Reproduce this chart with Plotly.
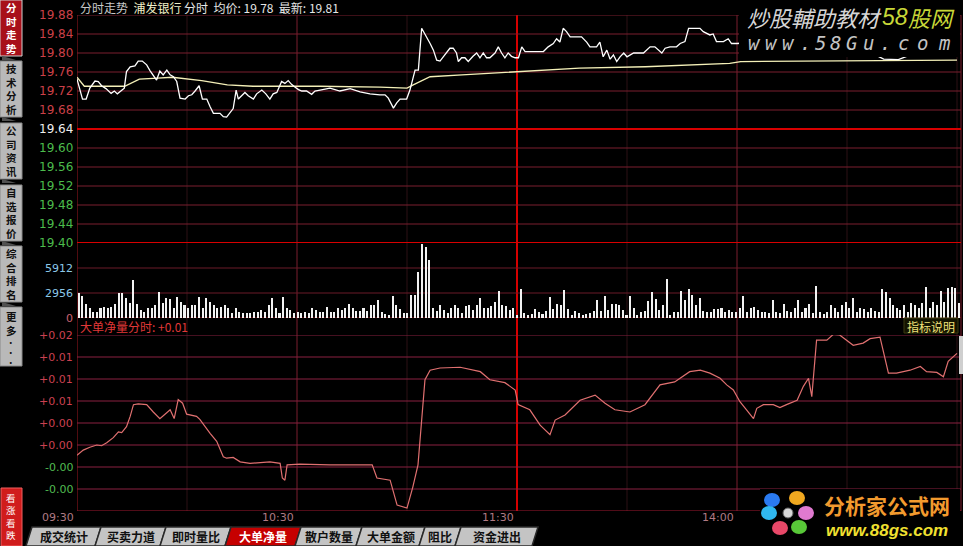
import plotly.graph_objects as go

# ---------------- data ----------------
stock_name = "浦发银行"
avg_price_text = "19.78"
last_price_text = "19.81"
net_last_text = "+0.01"

prev_close = 19.64
price_ticks = [19.88, 19.84, 19.80, 19.76, 19.72, 19.68, 19.64, 19.60, 19.56, 19.52, 19.48, 19.44, 19.40]
vol_ticks = [2956, 5912]
vol_max = 8868
net_ticks = [0.0165, 0.0135, 0.0105, 0.0075, 0.0045, 0.0015, -0.0015, -0.0045]
net_tick_text = ["+0.02", "+0.01", "+0.01", "+0.01", "+0.00", "+0.00", "-0.00", "-0.00"]
net_range = [-0.0075, 0.0165]
time_ticks = [0, 60, 120, 180]
time_labels = ["09:30", "10:30", "11:30", "14:00"]

# (minutes since 09:30, price)
price_line = [
    (0, 19.745), (1.5, 19.703), (2.5, 19.703), (3.5, 19.726), (4.9, 19.741), (5.8, 19.740), (6.7, 19.731),
    (7.9, 19.725), (9.3, 19.715), (10.2, 19.720), (11.0, 19.714), (11.9, 19.720), (12.9, 19.726), (13.5, 19.761),
    (14.5, 19.771), (15.8, 19.773), (16.7, 19.783), (17.8, 19.783), (19.0, 19.775), (19.9, 19.763), (20.8, 19.754),
    (21.7, 19.743), (22.6, 19.762), (23.5, 19.754), (24.5, 19.764), (25.4, 19.754), (26.3, 19.750), (27.2, 19.740),
    (28.1, 19.705), (29.5, 19.703), (30.4, 19.710), (31.3, 19.712), (32.2, 19.720), (33.3, 19.731), (34.2, 19.703),
    (35.4, 19.703), (36.3, 19.687), (37.2, 19.673), (39.0, 19.673), (39.9, 19.666), (40.8, 19.665), (41.7, 19.673),
    (42.6, 19.683), (43.4, 19.722), (44.0, 19.703), (44.9, 19.710), (45.8, 19.717), (46.7, 19.710), (48.1, 19.703),
    (49.0, 19.714), (50.4, 19.722), (51.5, 19.714), (52.6, 19.703), (53.5, 19.714), (54.5, 19.717), (55.8, 19.740),
    (56.7, 19.736), (57.6, 19.742), (58.5, 19.734), (59.5, 19.728), (60.4, 19.723), (61.3, 19.720), (62.6, 19.720),
    (64.0, 19.713), (64.9, 19.720), (66.3, 19.722), (69.0, 19.726), (71.7, 19.720), (74.5, 19.725), (77.2, 19.718),
    (79.9, 19.714), (82.6, 19.712), (84.0, 19.712), (84.9, 19.705), (86.3, 19.684), (87.2, 19.695), (88.1, 19.703),
    (89.9, 19.703), (90.8, 19.722), (92.2, 19.764), (93.1, 19.764), (94.0, 19.852), (95.4, 19.834), (96.3, 19.820),
    (97.2, 19.806), (98.1, 19.785), (99.0, 19.783), (99.9, 19.792), (100.8, 19.800), (101.7, 19.810), (102.6, 19.810),
    (103.5, 19.800), (104.0, 19.782), (104.9, 19.790), (105.8, 19.790), (106.7, 19.782), (108.0, 19.793), (109.0, 19.800),
    (109.9, 19.790), (110.8, 19.800), (111.7, 19.790), (112.6, 19.790), (114.0, 19.800), (114.9, 19.813), (115.8, 19.800),
    (116.7, 19.790), (117.6, 19.800), (118.5, 19.793), (119.5, 19.790), (120.4, 19.790), (121.3, 19.813), (122.2, 19.803),
    (127.2, 19.803), (128.5, 19.813), (129.9, 19.820), (130.8, 19.830), (131.7, 19.823), (132.6, 19.852), (133.5, 19.845),
    (134.5, 19.834), (137.6, 19.834), (139.0, 19.823), (139.9, 19.813), (141.7, 19.813), (142.6, 19.823), (143.5, 19.792),
    (144.5, 19.806), (145.4, 19.787), (146.3, 19.796), (147.2, 19.782), (148.1, 19.792), (149.1, 19.800), (150.0, 19.792),
    (150.8, 19.796), (151.8, 19.800), (154.5, 19.800), (155.4, 19.806), (156.3, 19.813), (157.6, 19.813), (158.5, 19.806),
    (159.5, 19.800), (160.4, 19.810), (161.7, 19.813), (163.5, 19.813), (164.5, 19.820), (165.8, 19.824), (166.8, 19.852),
    (169.9, 19.852), (170.8, 19.845), (172.6, 19.838), (173.5, 19.840), (174.4, 19.824), (176.3, 19.824), (177.6, 19.830),
    (178.5, 19.820), (180.0, 19.820), (190.0, 19.825), (200.0, 19.815), (212.0, 19.810), (218.0, 19.795), (220.0, 19.787),
    (224.0, 19.786), (227.0, 19.795), (233.0, 19.805), (240.0, 19.810),
]

# (minutes since 09:30, average price)
avg_line = [
    (0, 19.749), (2, 19.730), (13, 19.730), (17, 19.745), (22, 19.747), (26, 19.749), (34, 19.742), (41, 19.733),
    (48, 19.730), (66, 19.730), (82.6, 19.728), (90, 19.726), (91.7, 19.733), (96.3, 19.750), (105, 19.754),
    (120, 19.761), (137, 19.768), (155, 19.771), (178, 19.778), (181, 19.782), (240, 19.785),
]

# one bar per minute
volume = [
    2960, 2600, 1650, 1180, 710, 710, 1180, 1300, 1180, 1300, 1650, 2960, 2960, 2370, 1770, 4490, 1650, 950, 710, 1180,
    1180, 1540, 3070, 1770, 2370, 2250, 1180, 2480, 1890, 1540, 1180, 1540, 1540, 2480, 1180, 2370, 1890, 1540, 1180, 1300,
    1540, 1180, 590, 1180, 710, 590, 590, 590, 710, 710, 950, 710, 1540, 2370, 1180, 590, 2480, 1180, 950, 590,
    710, 590, 710, 590, 1180, 950, 710, 710, 1300, 710, 710, 1180, 950, 1180, 1650, 1180, 830, 830, 1180, 830, 1540,
    1540, 2130, 710, 470, 360, 2600, 1540, 1060, 590, 590, 2720, 2720, 5440, 8800, 8390, 6860, 1180, 830, 1540, 950,
    590, 1180, 1540, 1180, 590, 1420, 1540, 950, 1540, 2370, 1180, 1180, 1420, 1890, 3190, 1540, 1420, 950, 1180, 360,
    3430, 590, 360, 470, 1060, 710, 470, 830, 2480, 1060, 1650, 1540, 3310, 1060, 360, 830, 590, 360, 470, 590,
    830, 2130, 830, 2600, 950, 1650, 1650, 1540, 950, 360, 2600, 1180, 360, 710, 830, 2010, 3070, 2250, 950, 1540, 4610,
    360, 710, 710, 3190, 2130, 3430, 2720, 1540, 2370, 830, 710, 710, 1060, 1060, 1180, 710, 950, 710, 710, 1180,
    2600, 710, 1180, 1300, 950, 710, 710, 590, 2130, 710, 590, 1650, 830, 710, 1180, 2130, 710, 1180, 1650, 590,
    3780, 710, 470, 710, 1540, 1180, 710, 1540, 1890, 1180, 2370, 710, 1180, 1060, 710, 1180, 830, 710, 3430, 3070,
    2370, 1540, 1180, 950, 1540, 710, 1770, 1540, 1180, 1770, 3660, 1180, 1890, 1540, 3190, 1890, 3550, 3660, 3550, 1770,
]

# (minutes since 09:30, 大单净量)
net_line = [
    (0, 0.0001), (1.7, 0.0008), (3.5, 0.0012), (5.4, 0.0015), (6.7, 0.0014), (8.1, 0.0018), (9.9, 0.0025),
    (11.3, 0.0033), (12.2, 0.0032), (13.5, 0.0040), (14.5, 0.0054), (15.4, 0.0070), (16.7, 0.0071), (19.0, 0.0070),
    (20.8, 0.0060), (22.6, 0.0051), (24.0, 0.0057), (25.4, 0.0063), (26.5, 0.0051), (27.6, 0.0077), (28.8, 0.0072),
    (29.9, 0.0057), (32.6, 0.0054), (33.5, 0.0050), (36.3, 0.0031), (38.1, 0.0020), (39.9, -0.0001), (40.8, -0.0003),
    (42.6, -0.0002), (44.5, -0.0008), (47.2, -0.0010), (52.6, -0.0008), (55.4, -0.0010), (56.0, -0.0030), (56.7, -0.0033),
    (57.3, -0.0012), (60.8, -0.0011), (69.0, -0.0012), (80.5, -0.0012), (81.8, -0.0030), (85.4, -0.0033), (87.3, -0.0067),
    (90.0, -0.0071), (91.6, -0.0042), (93.0, -0.0012), (94.9, 0.0104), (96.3, 0.0117), (99.0, 0.0120), (104.5, 0.0121),
    (110.0, 0.0115), (112.6, 0.0104), (116.7, 0.0100), (119.5, 0.0090), (120.3, 0.0070), (123.5, 0.0063), (126.3, 0.0042),
    (129.0, 0.0029), (130.4, 0.0049), (133.1, 0.0056), (137.2, 0.0076), (141.3, 0.0083), (144.0, 0.0072), (146.7, 0.0063),
    (150.8, 0.0060), (154.9, 0.0070), (159.0, 0.0097), (163.0, 0.0101), (167.1, 0.0115), (170.0, 0.0117), (172.6, 0.0113),
    (175.4, 0.0106), (177.2, 0.0097), (179.0, 0.0090), (180.8, 0.0074), (182.6, 0.0063), (184.5, 0.0051), (185.4, 0.0065),
    (187.2, 0.0070), (189.9, 0.0070), (191.7, 0.0066), (193.5, 0.0070), (196.4, 0.0076), (198.1, 0.0095), (199.5, 0.0106),
    (200.4, 0.0081), (201.3, 0.0135), (201.7, 0.0158), (204.5, 0.0158), (206.3, 0.0166), (208.0, 0.0165), (209.9, 0.0158),
    (211.7, 0.0151), (214.4, 0.0154), (216.3, 0.0160), (219.0, 0.0162), (221.3, 0.0113), (223.5, 0.0113), (227.2, 0.0117),
    (230.0, 0.0122), (231.7, 0.0115), (234.5, 0.0114), (236.3, 0.0108), (237.6, 0.0129), (240.0, 0.0140),
]

side_tabs = ["分时走势", "技术分析", "公司资讯", "自选报价", "综合排名"]
bottom_tabs = ["成交统计", "买卖力道", "即时量比", "大单净量", "散户数量", "大单金额", "阻比", "资金进出"]
bottom_selected = "大单净量"

# ---------------- layout geometry (pixels) ----------------
L, R, T, B = 77, 961, 15, 511
W, H = R - L, B - T
PX_PER_MIN = 880 / 240.0


def px(x):
    return (x - L) / W


def py(y):
    return (B - y) / H


CJK = "Noto Sans CJK SC, Noto Sans, sans-serif"
NUM = "DejaVu Sans, Liberation Sans, sans-serif"

fig = go.Figure()

fig.add_trace(go.Bar(
    x=[i + 0.5 for i in range(len(volume))], y=volume, xaxis="x2", yaxis="y2",
    marker=dict(color="#f2f2f2", line=dict(width=0)), width=0.42, hoverinfo="skip"))
fig.add_trace(go.Scatter(
    x=[p[0] for p in avg_line], y=[p[1] for p in avg_line], xaxis="x", yaxis="y", mode="lines",
    line=dict(color="#f4f0b8", width=1.3), hoverinfo="skip"))
fig.add_trace(go.Scatter(
    x=[p[0] for p in price_line], y=[p[1] for p in price_line], xaxis="x", yaxis="y", mode="lines",
    line=dict(color="#ffffff", width=1.3), hoverinfo="skip"))
fig.add_trace(go.Scatter(
    x=[p[0] for p in net_line], y=[p[1] for p in net_line], xaxis="x", yaxis="y3", mode="lines",
    line=dict(color="#e07070", width=1.2), hoverinfo="skip"))

shapes = []
ann = []


def hline(yref, yv, color, width=1):
    shapes.append(dict(type="line", xref="paper", yref=yref, x0=0, x1=1, y0=yv, y1=yv,
                       line=dict(color=color, width=width), layer="below"))


def rect(x0, y0, x1, y1, fill, line=None, layer="above"):
    shapes.append(dict(type="rect", xref="paper", yref="paper", x0=px(x0), x1=px(x1), y0=py(y0), y1=py(y1),
                       fillcolor=fill, line=dict(color=line or fill, width=1 if line else 0), layer=layer))


def text(t, x, y, size, color, family=CJK, xanchor="center", yanchor="middle", **kw):
    ann.append(dict(text=t, xref="paper", yref="paper", x=px(x), y=py(y), xanchor=xanchor, yanchor=yanchor,
                    showarrow=False, font=dict(size=size, color=color, family=family), **kw))


# vertical grid
for m in range(0, 241, 30):
    if m == 120:
        c, w = "#d40000", 2
    elif m in (60, 180):
        c, w = "#7a1e2e", 1
    elif m == 0:
        c, w = "#a01820", 1
    else:
        c, w = "#2c1014", 1
    shapes.append(dict(type="line", xref="x", yref="paper", x0=m, x1=m, y0=0, y1=1,
                       line=dict(color=c, width=w), layer="below"))
shapes.append(dict(type="line", xref="paper", yref="paper", x0=1, x1=1, y0=0, y1=1,
                   line=dict(color="#7a1e2e", width=1), layer="below"))

# price grid + labels
for v in price_ticks:
    bright = abs(v - prev_close) < 1e-9 or abs(v - price_ticks[-1]) < 1e-9
    hline("y", v, "#d80000" if bright else "#7a1e2e", 2 if bright else 1)
    if v > prev_close + 1e-9:
        col = "#cc4048"
    elif v < prev_close - 1e-9:
        col = "#4cbc4c"
    else:
        col = "#eeeeee"
    ann.append(dict(text=f"{v:.2f}", xref="paper", yref="y", x=px(75), y=v, xanchor="right", yanchor="middle",
                    showarrow=False, font=dict(size=12, color=col, family=NUM)))

# volume grid + labels
for v in vol_ticks:
    hline("y2", v, "#6a1a28", 1)
    ann.append(dict(text=str(v), xref="paper", yref="y2", x=px(75), y=v, xanchor="right", yanchor="middle",
                    showarrow=False, font=dict(size=11, color="#8cc8e8", family=NUM)))
hline("y2", 0, "#a01820", 1)
ann.append(dict(text="0", xref="paper", yref="y2", x=px(75), y=0, xanchor="right", yanchor="middle",
                showarrow=False, font=dict(size=11, color="#c86070", family=NUM)))

# indicator grid + labels
for v, t in zip(net_ticks, net_tick_text):
    hline("y3", v, "#8a2040", 1)
    ann.append(dict(text=t, xref="paper", yref="y3", x=px(75), y=v, xanchor="right", yanchor="middle",
                    showarrow=False,
                    font=dict(size=11, color="#cc4050" if t.startswith("+") else "#50bc50", family=NUM)))
hline("y3", net_range[0], "#a01830", 1)

# time labels
for m, t in zip(time_ticks, time_labels):
    ann.append(dict(text=t, xref="x", yref="paper", x=m, y=py(517), xanchor="right", yanchor="middle",
                    xshift=-1, showarrow=False, font=dict(size=11, color="#b07a84", family=NUM)))

# header
text(f"<span style='color:#c8c8c8'>分时走势</span>  <span style='color:#f0f0c8'>{stock_name}</span>"
     f" 分时  均价: {avg_price_text}  最新: {last_price_text}",
     78, 7, 12, "#e6e6e6", xanchor="left")

# indicator title
text(f"大单净量分时: {net_last_text}", 78, 326, 12, "#e03838", xanchor="left")
rect(904, 318, 958, 333, "#141400", "#3a3a10")
text("指标说明", 931, 326, 12, "#f0e27a")
rect(959, 336, 963, 374, "#cfcfcf")

# ---- left sidebar ----
rect(0, 0, 23, 546, "#000000", layer="above")
tab_tops = [0, 61, 123, 185, 246]
for k, (lab, top) in enumerate(zip(side_tabs, tab_tops)):
    sel = k == 0
    rect(0, top, 22, top + 56, "#a8101a" if sel else "#b9b9b9", "#d0d0d0" if sel else "#8a8a8a")
    shapes.append(dict(type="path", xref="paper", yref="paper",
                       path=f"M {px(2)},{py(top + 56)} L {px(16)},{py(top + 60)} L {px(2)},{py(top + 60)} Z",
                       fillcolor="#505050", line=dict(width=0), layer="above"))
    text("<br>".join(f"<b>{ch}</b>" for ch in lab), 11, top + 28, 10.5, "#ffffff" if sel else "#101010")
rect(0, 307, 22, 366, "#b9b9b9", "#8a8a8a")
text("<b>更</b><br><b>多</b>", 11, 323, 10.5, "#101010")
text("<b>·</b><br><b>·</b><br><b>·</b>", 11, 352, 7.5, "#101010")
# red button at bottom
shapes.append(dict(type="rect", xref="paper", yref="paper", x0=px(1), x1=px(22), y0=py(488), y1=py(546),
                   fillcolor="#d01c1c", line=dict(color="#f06060", width=1), layer="above"))
text("看<br>涨<br>看<br>跌", 11, 516, 9.5, "#ffffff")

# ---- bottom tabs ----
tab_edges = [26, 95, 160, 225, 295, 356, 419, 455, 532]
for k, lab in enumerate(bottom_tabs):
    x0, x1 = tab_edges[k], tab_edges[k + 1]
    sel = lab == bottom_selected
    shapes.append(dict(type="path", xref="paper", yref="paper",
                       path=(f"M {px(x0)},{py(546)} L {px(x0 + 6)},{py(527)} L {px(x1 + 6)},{py(527)} "
                             f"L {px(x1)},{py(546)} Z"),
                       fillcolor="#c60000" if sel else "#c4c4c4", line=dict(color="#2a2a2a", width=1.5),
                       layer="above"))
    text(f"<b>{lab}</b>", (x0 + x1) / 2 + 3, 536.5, 12, "#ffffff" if sel else "#101010")

# ---- watermark top-right ----
rect(739, 0, 960, 57, "#000000")
text("<i>炒股輔助教材</i>", 814, 17, 22, "#d6d6d6")
text("<i>58</i>", 895, 17, 23, "#c8d838", family="Liberation Sans, sans-serif")
text("<i>股网</i>", 931, 17, 22, "#c8d838")
for ch, cx in zip("www.58Gu.com", [754, 771, 788, 805, 820, 835, 851, 868, 885, 903, 922, 944]):
    text(f"<i>{ch}</i>", cx, 43, 19, "#c4c4c4", family="DejaVu Sans Mono, monospace")

# ---- watermark bottom-right ----
rect(760, 489, 960, 546, "#000000")
petals = [(772, 500, "#2a7af0"), (797, 498, "#f0a820"), (806, 513, "#e07ad0"),
          (799, 527, "#58c838"), (780, 528, "#e84868"), (769, 513, "#30b8f0")]
for cx, cy, c in petals:
    shapes.append(dict(type="circle", xref="paper", yref="paper", x0=px(cx - 8), x1=px(cx + 8),
                       y0=py(cy + 7), y1=py(cy - 7), fillcolor=c, line=dict(width=0), layer="above"))
shapes.append(dict(type="circle", xref="paper", yref="paper", x0=px(783), x1=px(793), y0=py(518), y1=py(508),
                   fillcolor="#d8d8d8", line=dict(color="#606060", width=1), layer="above"))
text("<b>分析家公式网</b>", 887, 505, 21, "#f29a2e")
text("<b><i>www.88gs.com</i></b>", 887, 530, 17, "#f0e030", family="Liberation Sans, sans-serif")

fig.update_layout(
    width=963, height=546,
    margin=dict(l=L, r=963 - R, t=T, b=546 - B),
    paper_bgcolor="#000000", plot_bgcolor="#000000",
    showlegend=False, bargap=0,
    xaxis=dict(domain=[0, 1], range=[0, W / PX_PER_MIN], visible=False, anchor="y3", fixedrange=True),
    xaxis2=dict(overlaying="x", range=[0, 242], visible=False, anchor="y2", fixedrange=True),
    yaxis=dict(domain=[py(243), 1], range=[price_ticks[-1], price_ticks[0]], visible=False, fixedrange=True),
    yaxis2=dict(domain=[py(318), py(243)], range=[0, vol_max], visible=False, fixedrange=True),
    yaxis3=dict(domain=[0, py(335)], range=net_range, visible=False, fixedrange=True),
    shapes=shapes, annotations=ann,
)

fig.write_html("out.html", config={"displayModeBar": False},
               post_script="document.body.style.margin='0';document.body.style.background='#000';")
